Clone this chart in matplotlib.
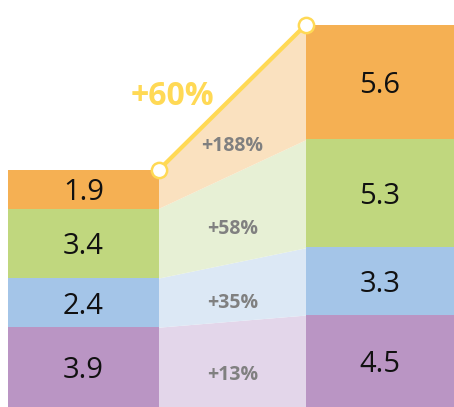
import numpy as np
import matplotlib.pyplot as plt

plt.rcParams['font.family'] = ['Open Sans', 'DejaVu Sans']

# segments, bottom -> top
segments = ['purple', 'blue', 'green', 'orange']
before = [3.9, 2.4, 3.4, 1.9]
after = [4.5, 3.3, 5.3, 5.6]
growth = ['+13%', '+35%', '+58%', '+188%']
total_growth = '+60%'

seg_colors = ['#BA95C4', '#A4C5E8', '#C0D77E', '#F5B053']
band_colors = ['#E3D6EA', '#DCE8F5', '#E7F0D5', '#FAE1BF']
yellow = '#FFD955'

fig = plt.figure(figsize=(4.54, 4.07), dpi=100)
ax = fig.add_axes([0, 0, 1, 1])
ax.set_xlim(0, 454)
ax.set_ylim(0, 19.9)
ax.axis('off')

xl, wl = 8, 151      # left bar
xr, wr = 306, 148    # right bar

cb = np.concatenate([[0], np.cumsum(before)])
ca = np.concatenate([[0], np.cumsum(after)])

for i in range(len(segments)):
    ax.bar(xl, before[i], width=wl, bottom=cb[i], align='edge', color=seg_colors[i], zorder=2)
    ax.bar(xr, after[i], width=wr, bottom=ca[i], align='edge', color=seg_colors[i], zorder=2)
    ax.text(xl + wl / 2, cb[i] + before[i] / 2, f'{before[i]:.1f}', ha='center', va='center_baseline',
            fontsize=21, color='#111111', zorder=4)
    ax.text(xr + wr / 2, ca[i] + after[i] / 2, f'{after[i]:.1f}', ha='center', va='center_baseline',
            fontsize=21, color='#111111', zorder=4)
    # connecting band
    x0, x1 = xl + wl, xr
    ax.fill_between([x0 - 1, x1 + 1], [cb[i], ca[i]], [cb[i + 1], ca[i + 1]], color=band_colors[i],
                    lw=0, zorder=1)
    ym = (cb[i] + ca[i] + cb[i + 1] + ca[i + 1]) / 4
    ax.annotate(growth[i], ((x0 + x1) / 2, ym), xytext=(0, -6), textcoords='offset points',
                ha='center', va='center_baseline', fontsize=14, fontweight='bold', color='#808080', zorder=4)

# total line
ax.plot([xl + wl, xr], [cb[-1], ca[-1]], color=yellow, lw=3, zorder=3,
        marker='o', markersize=11, markerfacecolor='white', markeredgecolor=yellow,
        markeredgewidth=1.8, clip_on=False)
ax.text(172, 15.4, total_growth, ha='center', va='center_baseline', fontsize=23,
        fontweight='bold', color=yellow, zorder=4)

fig.savefig('out.png', dpi=100)
